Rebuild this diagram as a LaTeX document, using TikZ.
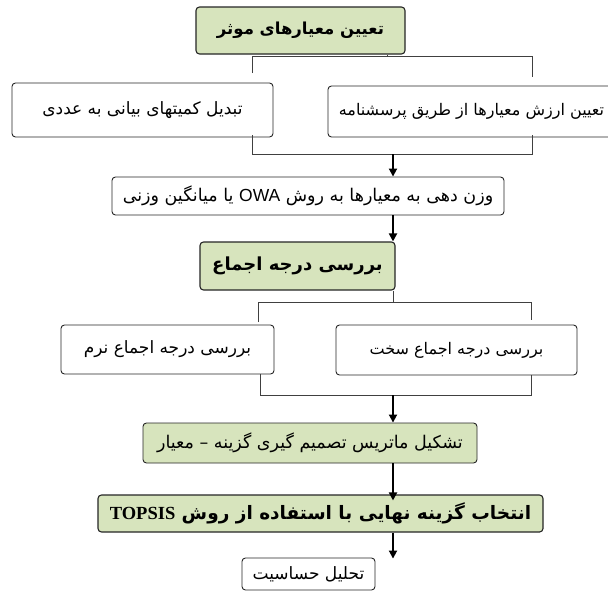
\documentclass[tikz,border=0pt]{standalone}
\usepackage{fontspec}
\usetikzlibrary{arrows.meta}
\TeXXeTstate=1
\newfontfamily\fa[Script=Arabic]{DejaVu Sans}
\newfontfamily\lsans{Liberation Sans}
\newfontfamily\lserif{Liberation Serif}
\definecolor{boxgreen}{HTML}{D7E4BD}
\definecolor{edgecol}{HTML}{262626}
\definecolor{wirecol}{HTML}{404040}
\tikzset{
  box/.style={draw=edgecol, line width=0.9pt, rounded corners=3.5pt, fill=white,
    inner sep=0pt},
  gbox/.style={box, fill=boxgreen},
  hbox/.style={gbox, line width=1.1pt},
  rtxt/.style={font=\fa\fontsize{#1}{#1}\selectfont},
  btxt/.style={font=\fa\bfseries\fontsize{#1}{#1}\selectfont},
  wire/.style={draw=wirecol, line width=1pt},
  arr/.style={line width=1.8pt, -{Triangle[width=8pt,length=8pt]}},
}
\begin{document}
\begin{tikzpicture}[x=1pt,y=-1pt]
\useasboundingbox (0,0) rectangle (608,592);
\fill[white] (0,0) rectangle (608,592);
\coordinate (ax) at (393,0);

% boxes
\node[hbox, btxt=16.5, minimum width=209pt, minimum height=47pt] (b1) at (300.5,30.5)
  {\beginR تعیین معیارهای موثر\endR};
\node[box, rtxt=17, minimum width=261pt, minimum height=54pt] (b2l) at (142.5,110)
  {\beginR تبدیل کمیتهای بیانی به عددی\endR};
\node[box, rtxt=16, minimum width=287pt, minimum height=51pt] (b2r) at (471.5,111.5)
  {\beginR تعیین ارزش معیارها از طریق پرسشنامه\endR};
\node[box, rtxt=17.5, minimum width=392pt, minimum height=38pt] (b3) at (308,196)
  {\beginR وزن دهی به معیارها به روش \beginL{\lsans OWA}\endL{} یا میانگین وزنی\endR};
\node[hbox, btxt=18, minimum width=195pt, minimum height=48pt] (b4) at (297.5,266)
  {\beginR بررسی درجه اجماع\endR};
\node[box, rtxt=17, minimum width=213pt, minimum height=49pt] (b5l) at (167.5,349.5)
  {\beginR بررسی درجه اجماع نرم\endR};
\node[box, rtxt=16, minimum width=241pt, minimum height=50pt] (b5r) at (456.5,350)
  {\beginR بررسی درجه اجماع سخت\endR};
\node[gbox, rtxt=17.5, minimum width=334pt, minimum height=40pt] (b6) at (310,443)
  {\beginR تشکیل ماتریس تصمیم گیری گزینه – معیار\endR};
\node[hbox, btxt=18.5, minimum width=445pt, minimum height=37pt] (b7) at (320.5,513.5)
  {\beginR انتخاب گزینه نهایی با استفاده از روش \beginL{\lserif\bfseries TOPSIS}\endL\endR};
\node[box, rtxt=17, minimum width=133pt, minimum height=32pt] (b8) at (308.5,574)
  {\beginR تحلیل حساسیت\endR};

% bracket 1 (top)
\coordinate (k1) at (387,56);
\coordinate (k1l) at (252,56);
\coordinate (k1r) at (532,56);
\coordinate (k1le) at (252,73);
\coordinate (k1re) at (532,77);
\draw[wire] (b1.south -| k1) -- (k1);
\draw[wire] (k1le) -- (k1l) -- (k1r) -- (k1re);

% bracket 1 (bottom)
\coordinate (m1l) at (252,154);
\coordinate (m1r) at (532,154);
\draw[wire] ([yshift=2pt]b2l.south -| m1l) -- (m1l) -- (m1r) -- ([yshift=2pt]b2r.south -| m1r);
\draw[arr] (m1l -| ax) -- (b3.north -| ax);
\draw[arr] (b3.south -| ax) -- (b4.north -| ax);

% bracket 2 (top)
\coordinate (k2) at (393,302);
\coordinate (k2l) at (258,302);
\coordinate (k2r) at (531,302);
\coordinate (k2le) at (258,322);
\coordinate (k2re) at (531,320);
\draw[wire] (b4.south -| k2) -- (k2);
\draw[wire] (k2le) -- (k2l) -- (k2r) -- (k2re);

% bracket 2 (bottom)
\coordinate (m2l) at (260,395);
\coordinate (m2r) at (531,395);
\draw[wire] (b5l.south -| m2l) -- (m2l) -- (m2r) -- (b5r.south -| m2r);
\draw[arr] (m2l -| ax) -- (b6.north -| ax);
\draw[arr] (b6.south -| ax) -- ([yshift=-6pt]b7.north -| ax);
\draw[arr] (b7.south -| ax) -- ([yshift=-1pt]b8.north -| ax);
\end{tikzpicture}
\end{document}
